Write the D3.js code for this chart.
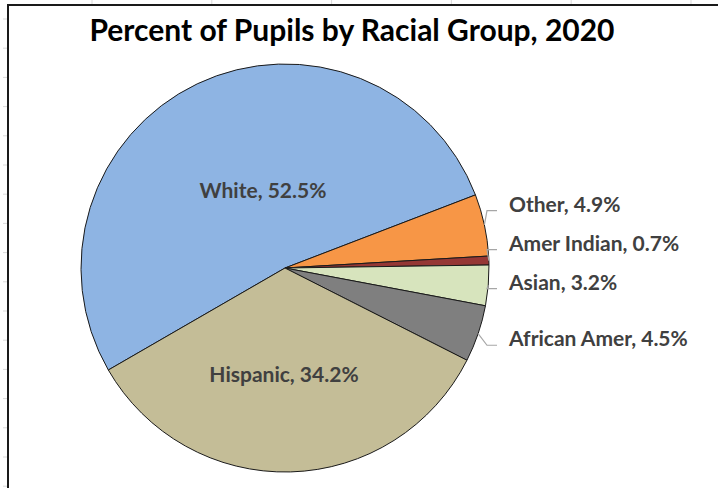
<!DOCTYPE html>
<html>
<head>
<meta charset="utf-8">
<script src="https://cdn.jsdelivr.net/npm/d3@7"></script>
<style>
  html, body { margin: 0; padding: 0; background: #fff; }
  svg { display: block; }
</style>
</head>
<body>
<svg id="chart" width="718" height="488"></svg>
<script>
// data
const groups = ["White", "Other", "Amer Indian", "Asian", "African Amer", "Hispanic"];
const values = [52.5, 4.9, 0.7, 3.2, 4.5, 34.2];
const colors = ["#8EB4E3", "#F79646", "#953735", "#D7E4BD", "#7F7F7F", "#C4BD97"];
const insideGroups = ["White", "Hispanic"];
const title = "Percent of Pupils by Racial Group, 2020";

const svg = d3.select("#chart");
const width = +svg.attr("width");
const height = +svg.attr("height");
const font = "Lato, 'Open Sans', sans-serif";

// spreadsheet grid behind the chart
const grid = svg.append("g").attr("stroke", "#d9d9d9").attr("stroke-width", 1);
d3.range(92, width, 119.8).forEach(x => {
    grid.append("line").attr("x1", x).attr("x2", x).attr("y1", 0).attr("y2", 4);
});
d3.range(19, height, 29.2).forEach(y => {
    grid.append("line").attr("x1", 3).attr("x2", 7).attr("y1", y).attr("y2", y);
});

// chart frame
svg.append("rect")
    .attr("x", 8).attr("y", 5)
    .attr("width", width + 10).attr("height", height + 10)
    .attr("fill", "#fff")
    .attr("stroke", "#1a1a1a")
    .attr("stroke-width", 2);

// title
svg.append("text")
    .attr("x", 352).attr("y", 41)
    .attr("text-anchor", "middle")
    .attr("font-family", font)
    .attr("font-weight", "bold")
    .attr("font-size", 30)
    .attr("fill", "#000")
    .text(title);

// pie
const cx = 285, cy = 268, r = 204;
const deg = Math.PI / 180;
const data = groups.map((g, i) => ({ group: g, value: values[i], color: colors[i] }));

const pie = d3.pie()
    .sort(null)
    .value(d => d.value)
    .startAngle(240 * deg)
    .endAngle(600 * deg);
const arc = d3.arc().innerRadius(0).outerRadius(r);
const arcs = pie(data);

const g = svg.append("g").attr("transform", `translate(${cx},${cy})`);

g.selectAll("path.slice")
    .data(arcs)
    .enter().append("path")
    .attr("class", "slice")
    .attr("d", arc)
    .attr("fill", d => d.data.color)
    .attr("stroke", "#1a1a1a")
    .attr("stroke-width", 1);

const labelText = d => `${d.data.group}, ${d.data.value.toFixed(1)}%`;
const mid = d => (d.startAngle + d.endAngle) / 2;
const labelSize = 21;

// labels inside the two big slices
const insideFrac = { "White": 0.41, "Hispanic": 0.535 };
const insideNudge = { "White": 14, "Hispanic": -4 };
g.selectAll("text.inside")
    .data(arcs.filter(d => insideGroups.includes(d.data.group)))
    .enter().append("text")
    .attr("class", "inside")
    .attr("x", d => Math.sin(mid(d)) * r * insideFrac[d.data.group] + insideNudge[d.data.group])
    .attr("y", d => -Math.cos(mid(d)) * r * insideFrac[d.data.group] - 2)
    .attr("dy", "0.35em")
    .attr("text-anchor", "middle")
    .attr("font-family", font)
    .attr("font-weight", "bold")
    .attr("font-size", labelSize)
    .attr("fill", "#404040")
    .text(labelText);

// outside labels with leader lines, pushed apart so they do not overlap
const outside = arcs.filter(d => !insideGroups.includes(d.data.group))
    .map(d => ({ d, ly: -Math.cos(mid(d)) * 240 }));
const gap = 39;
for (let i = outside.length - 2; i >= 0; i--) {
    if (outside[i].ly > outside[i + 1].ly - gap) outside[i].ly = outside[i + 1].ly - gap;
}

const elbowX = 202, lineEnd = 212, textX = 224;
outside.forEach(o => {
    const ex = Math.sin(mid(o.d)) * r;
    const ey = -Math.cos(mid(o.d)) * r;
    g.append("path")
        .attr("d", d3.line()([[ex, ey], [elbowX, o.ly], [lineEnd, o.ly]]))
        .attr("fill", "none")
        .attr("stroke", "#a6a6a6")
        .attr("stroke-width", 1.2);
    g.append("text")
        .attr("x", textX)
        .attr("y", o.ly + 1)
        .attr("font-family", font)
        .attr("font-weight", "bold")
        .attr("font-size", labelSize)
        .attr("fill", "#404040")
        .text(labelText(o.d));
});
</script>
</body>
</html>
